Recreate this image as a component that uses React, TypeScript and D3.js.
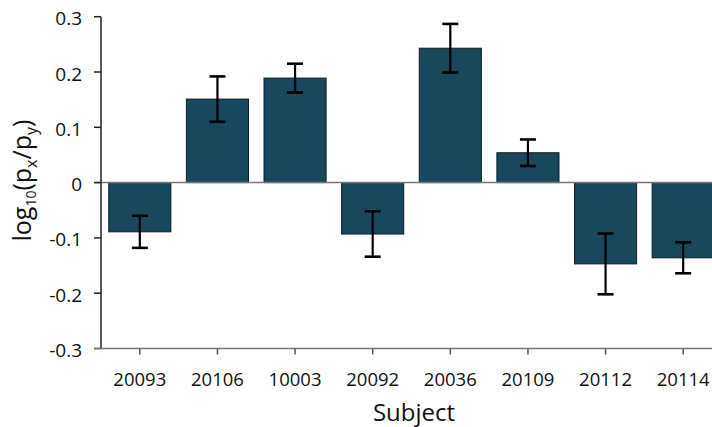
import React from "react";
import * as d3 from "d3";

// subject ids and the log ratio per subject, with the error bar half-length
const subjects = ["20093", "20106", "10003", "20092", "20036", "20109", "20112", "20114"];
const means = [-0.089, 0.151, 0.189, -0.093, 0.243, 0.054, -0.147, -0.136];
const errors = [0.029, 0.041, 0.026, 0.041, 0.044, 0.024, 0.055, 0.028];
const yTicks = [-0.3, -0.2, -0.1, 0, 0.1, 0.2, 0.3];

const width = 712;
const height = 427;
const font = "'Open Sans', 'Noto Sans', sans-serif";

const App = () => {
  const xScale = d3
    .scaleBand()
    .domain(subjects)
    .range([101, 722])
    .paddingInner(0.2)
    .paddingOuter(0.1);
  const yScale = d3.scaleLinear().domain([-0.3, 0.3]).range([348.5, 16.7]);

  const fmt = (d: number) => (d === 0 ? "0" : d3.format(".1f")(d).replace("−", "-"));
  const y0 = yScale(0);
  const capW = 16;

  return (
    <svg
      width={width}
      height={height}
      style={{ position: "absolute", left: 0, top: 0, background: "#fff" }}
      fontFamily={font}
    >
      {/* bars */}
      {subjects.map((s, i) => {
        const v = means[i];
        const top = yScale(Math.max(0, v));
        const bottom = yScale(Math.min(0, v));
        return (
          <rect
            key={s}
            x={xScale(s)}
            y={top}
            width={xScale.bandwidth()}
            height={bottom - top}
            fill="#19475b"
            stroke="#0b1f28"
            strokeWidth={1}
          />
        );
      })}

      {/* zero line */}
      <line x1={95} x2={width} y1={y0} y2={y0} stroke="#777" strokeWidth={1.5} />

      {/* error bars */}
      {subjects.map((s, i) => {
        const cx = (xScale(s) as number) + xScale.bandwidth() / 2;
        const hi = yScale(means[i] + errors[i]);
        const lo = yScale(means[i] - errors[i]);
        return (
          <g key={"e" + s} stroke="#000">
            <line x1={cx} x2={cx} y1={hi} y2={lo} strokeWidth={2.2} />
            <line x1={cx - capW / 2} x2={cx + capW / 2} y1={hi} y2={hi} strokeWidth={2.6} />
            <line x1={cx - capW / 2} x2={cx + capW / 2} y1={lo} y2={lo} strokeWidth={2.6} />
          </g>
        );
      })}

      {/* y axis */}
      <line x1={101} x2={101} y1={yScale(0.3)} y2={yScale(-0.3)} stroke="#222" strokeWidth={1.5} />
      {yTicks.map((t) => (
        <g key={t}>
          <line x1={94} x2={101} y1={yScale(t)} y2={yScale(t)} stroke="#222" strokeWidth={1.5} />
          <text
            x={82}
            y={yScale(t) + 1.5}
            textAnchor="end"
            dominantBaseline="central"
            fontSize={19}
            fill="#111"
          >
            {fmt(t)}
          </text>
        </g>
      ))}

      {/* x axis */}
      <line x1={94} x2={width} y1={yScale(-0.3)} y2={yScale(-0.3)} stroke="#777" strokeWidth={1.5} />
      {subjects.map((s) => {
        const cx = (xScale(s) as number) + xScale.bandwidth() / 2;
        return (
          <g key={"t" + s}>
            <line x1={cx} x2={cx} y1={yScale(-0.3)} y2={yScale(-0.3) + 6} stroke="#555" strokeWidth={1.5} />
            <text x={cx} y={386} textAnchor="middle" fontSize={18.5} fill="#111">
              {s}
            </text>
          </g>
        );
      })}

      {/* axis titles */}
      <text x={414} y={421} textAnchor="middle" fontSize={24} fill="#111">
        Subject
      </text>
      <text
        transform={`translate(31, ${y0 - 2}) rotate(-90)`}
        textAnchor="middle"
        fontSize={25}
        fill="#111"
      >
        log
        <tspan fontSize={14} dy={5}>10</tspan>
        <tspan dy={-5}>(p</tspan>
        <tspan fontSize={16} dy={6}>x</tspan>
        <tspan dy={-6}>/p</tspan>
        <tspan fontSize={16} dy={6}>y</tspan>
        <tspan dy={-6}>)</tspan>
      </text>
    </svg>
  );
};

export default App;
